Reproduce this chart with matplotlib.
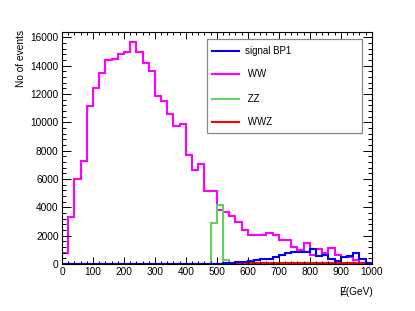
import numpy as np
import matplotlib
matplotlib.use("Agg")
import matplotlib.pyplot as plt
from matplotlib.patches import Rectangle
from matplotlib.lines import Line2D

plt.rcParams['font.family'] = ['Liberation Sans', 'DejaVu Sans']

# 20 GeV bins from 0 to 1000 GeV
bin_edges = np.arange(0, 1001, 20)

ww = [800, 3300, 6000, 7250, 11150, 12400, 13450, 14400, 14450, 14850,
      15000, 15700, 15000, 14200, 13600, 11850, 11500, 10600, 9750, 9900,
      7700, 6650, 7050, 5170, 5170, 3800, 3700, 3400, 3000, 2420,
      2040, 2040, 2040, 2200, 2040, 1690, 1690, 1220, 990, 1460,
      630, 1030, 750, 1100, 630, 520, 470, 280, 100, 30]

zz = [0] * 24 + [2900, 4200, 250] + [0] * 23

wwz = [0] * 20 + [5, 10, 15, 25, 30, 35, 40, 45, 50, 55,
                  55, 60, 60, 65, 65, 70, 70, 70, 70, 70,
                  70, 65, 65, 60, 60, 55, 50, 45, 40, 30]

signal = [3] * 24 + [10, 20, 50, 80, 120, 160,
                     200, 260, 320, 380, 460, 630, 800, 870, 820, 870,
                     1030, 560, 630, 330, 240, 520, 560, 800, 330, 50]

names = ['signal BP1', ' WW', ' ZZ', ' WWZ']
colors = ['#0000ff', '#ff00ff', '#5fd35f', '#ff0000']


def main():
    fig = plt.figure(figsize=(4.15, 3.11), dpi=100)
    ax = fig.add_axes([62 / 415, 1 - 264 / 311, 309.7 / 415, 232.3 / 311])

    # draw order: backgrounds first, signal on top
    ax.stairs(ww, bin_edges, baseline=0, color=colors[1], linewidth=1.5)
    ax.stairs(zz, bin_edges, baseline=0, color=colors[2], linewidth=1.5)
    ax.stairs(wwz, bin_edges, baseline=0, color=colors[3], linewidth=1.5)
    ax.stairs(signal, bin_edges, baseline=0, color=colors[0], linewidth=1.5)

    ax.set_xlim(0, 1000)
    ax.set_ylim(0, 16400)
    ax.set_xticks(np.arange(0, 1001, 100))
    ax.set_xticks(np.arange(0, 1001, 20), minor=True)
    ax.set_yticks(np.arange(0, 16001, 2000))
    ax.set_yticks(np.arange(0, 16401, 400), minor=True)

    ax.tick_params(axis='both', which='both', direction='in', top=True, right=True,
                   width=0.7, labelsize=7.3, pad=2.5)
    ax.tick_params(axis='x', which='major', length=5.0)
    ax.tick_params(axis='x', which='minor', length=2.5)
    ax.tick_params(axis='y', which='major', length=6.5)
    ax.tick_params(axis='y', which='minor', length=3.2)
    for sp in ax.spines.values():
        sp.set_linewidth(0.8)

    fig.text(21.5 / 415, 1 - 30 / 311, 'No of events', rotation=90,
             ha='center', va='top', fontsize=7.3)
    fig.text(373 / 415, 1 - 292 / 311, '\u0246(GeV)', ha='right', va='center',
             fontsize=7.3)

    # ROOT style legend box
    box = Rectangle((206.7 / 415, 1 - 133 / 311), 155 / 415, 94 / 311,
                    transform=fig.transFigure, facecolor='white',
                    edgecolor='#888888', linewidth=0.9, zorder=5)
    fig.add_artist(box)
    entry_y = [50.5, 74.5, 98.5, 122.5]
    for name, clr, yy in zip(names, colors, entry_y):
        fy = 1 - yy / 311
        fig.add_artist(Line2D([212 / 415, 239 / 415], [fy, fy], color=clr,
                              linewidth=1.5, transform=fig.transFigure, zorder=6))
        fig.text(245 / 415, fy, name, ha='left', va='center', fontsize=7.0, zorder=6)

    fig.savefig('out.png', dpi=100)


if __name__ == "__main__":
    main()
